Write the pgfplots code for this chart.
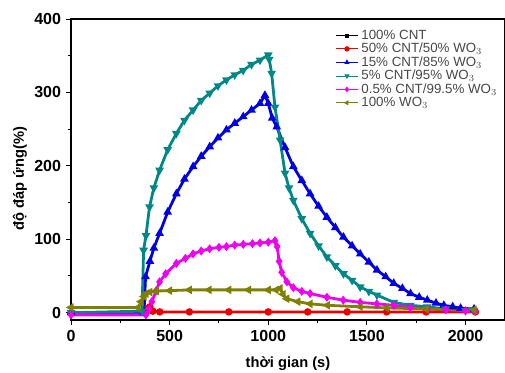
\documentclass[border=0pt]{standalone}
\usepackage{fontspec}
\setmainfont{Liberation Sans}
\usepackage{pgfplots}
\pgfplotsset{compat=1.18}
\definecolor{cteal}{RGB}{0,135,135}
\definecolor{colive}{RGB}{128,128,0}
\definecolor{cblue}{RGB}{0,0,225}
\definecolor{cmag}{RGB}{240,0,240}
\definecolor{cred}{RGB}{235,0,0}
\begin{document}
\begin{tikzpicture}
\begin{axis}[
  width=325.5pt, height=225.75pt, scale only axis,
  xmin=0, xmax=2200, ymin=-10, ymax=400,
  xtick={0,500,1000,1500,2000}, ytick={0,100,200,300,400},
  minor x tick num=1, minor y tick num=1,
  tick align=outside, tick pos=left,
  major tick length=4pt, minor tick length=2.5pt,
  every tick/.style={black, line width=0.7pt},
  axis line style={line width=0.9pt},
  /pgf/number format/assume math mode=true,
  /pgf/number format/1000 sep={},
  ticklabel style={font=\fontsize{12}{13}\selectfont\bfseries},
  xlabel={thời gian (s)}, ylabel={độ đáp ứng(\%)},
  every axis x label/.style={at={(axis description cs:0.5,-0.146)}, anchor=center, font=\fontsize{11}{12}\selectfont\bfseries},
  every axis y label/.style={at={(axis description cs:-0.1175,0.47)}, rotate=90, anchor=center, font=\fontsize{11}{12}\selectfont\bfseries},
  legend style={at={(0.605,0.978)}, anchor=north west, draw=none, fill=none,
    font=\fontsize{10}{11}\selectfont, row sep=-2.6pt, text=black!72, inner sep=1pt},
  legend cell align=left,
  legend image code/.code={\draw[mark repeat=2, mark phase=2, line width=0.6pt] plot coordinates {(0cm,0cm) (0.3cm,0cm) (0.6cm,0cm)};},
  every axis plot/.append style={line width=2.1pt, mark size=1.7pt},
]
\addplot[black, mark=square*, line width=1pt, mark size=1.1pt] coordinates {(450,1) (600,1) (800,1) (1000,1) (1200,1) (1400,1) (1600,1) (1800,1) (2050,1)};
\addlegendentry{100\% CNT}
\addplot[cred, mark=*] coordinates {(0,-1) (380,-1) (390,6) (400,8) (415,2) (450,1) (600,1) (800,1) (1000,1) (1200,1) (1400,1) (1600,1) (1800,1) (2050,1)};
\addlegendentry{50\% CNT/50\% WO$_3$}
\addplot[cblue, mark=triangle*] coordinates {(0,0) (370,0) (378,49) (400,70) (420,88) (449,108) (490,137) (534,162) (575,182) (619,199) (660,213) (703,226) (745,238) (788,249) (830,258) (873,267) (915,276) (958,285) (983,296) (1000,285) (1020,265) (1043,253) (1085,225) (1127,199) (1170,180) (1212,162) (1255,145) (1297,130) (1340,116) (1381,103) (1425,91) (1466,80) (1510,69) (1551,58) (1595,49) (1636,40) (1680,33) (1721,26) (1765,21) (1806,17) (1850,13) (1890,10) (1935,8) (1975,6) (2043,5)};
\addlegendentry{15\% CNT/85\% WO$_3$}
\addplot[cteal, mark=triangle*, mark options={rotate=180}] coordinates {(0,0) (360,2) (368,85) (380,105) (398,144) (420,170) (449,194) (490,222) (534,244) (575,262) (619,276) (660,289) (703,299) (745,309) (788,317) (830,324) (873,330) (915,338) (958,344) (1000,351) (1005,345) (1017,326) (1034,280) (1060,235) (1085,190) (1105,170) (1127,153) (1170,128) (1212,108) (1255,91) (1297,76) (1340,64) (1381,53) (1425,44) (1466,35) (1510,29) (1551,24) (1636,14) (1720,10) (1806,8) (1900,5) (2000,3) (2043,3)};
\addlegendentry{5\% CNT/95\% WO$_3$}
\addplot[cmag, mark=diamond*] coordinates {(0,-3) (380,-3) (395,5) (410,15) (432,30) (449,42) (480,53) (534,67) (580,74) (619,80) (660,84) (703,87) (750,89) (788,90) (830,92) (873,93) (920,94) (958,95) (1000,96) (1034,98) (1045,90) (1055,70) (1068,55) (1094,42) (1127,34) (1170,29) (1212,26) (1297,21) (1380,17) (1466,14) (1550,12) (1636,10) (1720,7) (1806,5) (1900,4) (2000,2.5) (2050,2)};
\addlegendentry{0.5\% CNT/99.5\% WO$_3$}
\addplot[colive, mark=triangle*, mark options={rotate=90}] coordinates {(0,7) (340,7) (355,15) (370,22) (381,26) (400,28) (432,29.5) (500,30) (600,31) (700,31) (800,31) (900,31) (1000,31) (1040,31) (1060,33) (1075,25) (1094,19) (1150,15) (1212,12) (1300,10) (1466,8) (1600,6.5) (1800,5) (2043,4)};
\addlegendentry{100\% WO$_3$}
\end{axis}
\pgfresetboundingbox
\path[use as bounding box] ([shift={(-53.25pt,-39.75pt)}]current axis.south west) rectangle ([shift={(0pt,14.25pt)}]current axis.north east);
\end{tikzpicture}
\end{document}
